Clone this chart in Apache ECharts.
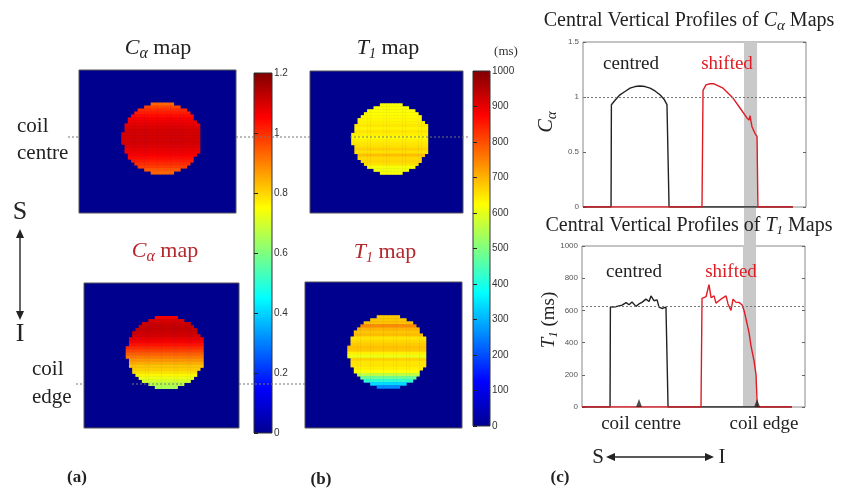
<!DOCTYPE html>
<html>
<head>
<meta charset="utf-8">
<script src="https://cdn.jsdelivr.net/npm/echarts@6/dist/echarts.min.js"></script>
<style>
  html, body { margin: 0; background: #fff; }
  #chart { width: 845px; height: 496px; }
</style>
</head>
<body>
<div id="chart"></div>
<script>
// values of each disc row (top -> bottom)
var caCentredRows = [0.93, 0.97, 1.0, 1.02, 1.04, 1.06, 1.07, 1.08, 1.09, 1.10, 1.10, 1.10,
                     1.10, 1.10, 1.09, 1.08, 1.07, 1.06, 1.04, 1.02, 1.0, 0.98, 0.95, 0.93];
var caShiftedRows = [1.06, 1.10, 1.11, 1.12, 1.12, 1.11, 1.10, 1.08, 1.06, 1.03, 1.0, 0.97,
                     0.94, 0.91, 0.88, 0.85, 0.82, 0.81, 0.79, 0.76, 0.73, 0.70, 0.67, 0.65];
var t1CentredRows = [621, 622, 623, 625, 628, 633, 640, 648, 635, 650, 640, 625,
                     640, 648, 655, 670, 655, 688, 662, 665, 655, 618, 612, 620];
var t1ShiftedRows = [675, 680, 685, 740, 700, 680, 690, 650, 662, 675, 685, 680,
                     640, 605, 668, 650, 650, 640, 625, 560, 480, 420, 340, 260];

// central vertical profiles: [position along S-I, value]
var caCentred = [[0, 0], [16.1, 0], [16.3, 0.93], [18.4, 0.97], [21.2, 1.02], [24.1, 1.05], [27.0, 1.08],
                 [29.9, 1.095], [32.7, 1.10], [35.6, 1.095], [38.5, 1.08], [41.3, 1.055], [44.2, 1.02],
                 [46.5, 0.98], [48.2, 0.93], [49.4, 0], [120.5, 0]];
var caShifted = [[0, 0], [68.3, 0], [68.9, 1.06], [70.6, 1.11], [72.9, 1.12], [75.2, 1.12], [80.4, 1.08],
                 [86.1, 0.99], [90.1, 0.90], [94.1, 0.81], [95.3, 0.79], [95.9, 0.83], [96.4, 0.78],
                 [97.0, 0.73], [98.7, 0.67], [99.9, 0.64], [100.4, 0], [120.5, 0]];
var t1Centred = [[0, 0], [16.1, 0], [16.3, 621], [19.5, 623], [23.0, 633], [25.3, 648], [27.0, 635],
                 [28.7, 652], [31.0, 625], [32.7, 640], [34.4, 650], [36.7, 670], [38.5, 655],
                 [39.6, 690], [41.3, 660], [43.1, 665], [44.2, 620], [45.9, 612], [48.2, 620],
                 [49.0, 618], [49.4, 0], [120.5, 0]];
var t1Shifted = [[0, 0], [68.3, 0], [68.9, 675], [70.0, 680], [71.2, 685], [72.9, 760], [74.1, 680],
                 [75.8, 690], [76.9, 645], [78.6, 660], [80.4, 675], [82.7, 690], [83.8, 640],
                 [85.5, 600], [86.7, 670], [88.4, 650], [90.1, 650], [91.8, 635], [93.0, 600],
                 [94.7, 520], [95.9, 460], [97.0, 380], [98.7, 290], [99.9, 200], [100.6, 0], [120.5, 0]];
var coilMarks = [[32.7, 0], [100.5, 0]];
var bandRange = [92.4, 99.9];
var caRefLine = 1;
var t1RefLine = 625;

var jet = ['#00008f', '#0000ff', '#0080ff', '#00ffff', '#80ff80', '#ffff00', '#ff8000', '#ff0000', '#800000'];
var serif = 'Liberation Serif';
var sans = 'Liberation Sans';

// 48x48 image, disc of radius 12 centred at (25.4, 23)
var N = 48, cx = 25.4, cy = 23, R = 12, firstRow = 11;
function discCells(rows) {
  var out = [];
  rows.forEach(function (v, k) {
    var r = firstRow + k, dy = r + 0.5 - cy;
    for (var c = 0; c < N; c++) {
      var dx = c + 0.5 - cx;
      if (dx * dx + dy * dy <= R * R) out.push([c, r, v]);
    }
  });
  return out;
}
var idx = [];
for (var i = 0; i < N; i++) idx.push(String(i));

function jetGrad() {
  return new echarts.graphic.LinearGradient(0, 1, 0, 0, jet.map(function (c, k) {
    return { offset: k / (jet.length - 1), color: c };
  }));
}

function txt(x, y, text, size, color, extra, rot) {
  var st = {
    text: text, fontFamily: serif, fontSize: size, fill: color || '#222',
    align: 'center', verticalAlign: 'middle', textAlign: 'center', textVerticalAlign: 'middle'
  };
  if (extra) for (var k in extra) st[k] = extra[k];
  return { type: 'text', x: x, y: y, z: 100, rotation: rot || 0, style: st };
}
function subRich(size, color, subSize, drop) {
  return {
    i: { fontFamily: serif, fontSize: size, fontStyle: 'italic', fill: color },
    s: { fontFamily: serif, fontSize: subSize, fontStyle: 'italic', fill: color, padding: [drop * 2, 0, 0, 0] },
    n: { fontFamily: serif, fontSize: size, fill: color }
  };
}
function dotted(x1, y1, x2) {
  return { type: 'line', z: 100, shape: { x1: x1, y1: y1, x2: x2, y2: y1 },
           style: { stroke: '#777', lineWidth: 1, lineDash: [2, 2] } };
}
function arrowV(x, y1, y2) {
  return { type: 'group', z: 100, children: [
    { type: 'line', shape: { x1: x, y1: y1 + 4, x2: x, y2: y2 - 4 }, style: { stroke: '#333', lineWidth: 1.5 } },
    { type: 'polygon', shape: { points: [[x, y1], [x - 4, y1 + 9], [x + 4, y1 + 9]] }, style: { fill: '#222' } },
    { type: 'polygon', shape: { points: [[x, y2], [x - 4, y2 - 9], [x + 4, y2 - 9]] }, style: { fill: '#222' } }
  ] };
}
function arrowH(x1, x2, y) {
  return { type: 'group', z: 100, children: [
    { type: 'line', shape: { x1: x1 + 4, y1: y, x2: x2 - 4, y2: y }, style: { stroke: '#222', lineWidth: 1.5 } },
    { type: 'polygon', shape: { points: [[x1, y], [x1 + 9, y - 4], [x1 + 9, y + 4]] }, style: { fill: '#222' } },
    { type: 'polygon', shape: { points: [[x2, y], [x2 - 9, y - 4], [x2 - 9, y + 4]] }, style: { fill: '#222' } }
  ] };
}

var mapGrid = { show: true, backgroundColor: '#00008f', borderColor: '#555', borderWidth: 1, outerBoundsMode: 'none' };
function g(o, base) { var r = {}; for (var k in base) r[k] = base[k]; for (var k2 in o) r[k2] = o[k2]; return r; }

var catX = function (gi) { return { type: 'category', gridIndex: gi, data: idx, show: false }; };
var catY = function (gi) { return { type: 'category', gridIndex: gi, data: idx, inverse: true, show: false }; };
var plain = function (v) { return String(v); };
var barAxis = function (gi, max, step) {
  return { type: 'value', gridIndex: gi, min: 0, max: max, interval: step, position: 'right',
           axisLine: { show: false }, splitLine: { show: false },
           axisTick: { show: true, inside: false, length: 4, lineStyle: { color: '#222' } },
           axisLabel: { margin: 2, fontFamily: sans, fontSize: 10, color: '#333', formatter: plain } };
};
var profY = function (gi, max, step, side) {
  return { type: 'value', gridIndex: gi, min: 0, max: max, interval: step, position: side,
           axisLine: { show: false }, splitLine: { show: false },
           axisTick: { show: true, inside: true, length: 3, lineStyle: { color: '#666' } },
           axisLabel: { show: side === 'left', margin: 4, fontFamily: sans, fontSize: 8, color: '#555', formatter: plain } };
};
var profX = function (gi) {
  return { type: 'value', gridIndex: gi, min: 0, max: 128, axisLine: { show: false },
           axisTick: { show: false }, axisLabel: { show: false }, splitLine: { show: false } };
};
var heat = function (i, data) {
  return { type: 'heatmap', xAxisIndex: i, yAxisIndex: i, data: data, silent: true,
           itemStyle: { borderWidth: 0 }, emphasis: { disabled: true }, progressive: 0 };
};
var band = { silent: true, itemStyle: { color: '#c9c9c9' },
             data: [[{ xAxis: bandRange[0] }, { xAxis: bandRange[1] }]] };
var refLine = function (v) {
  return { silent: true, symbol: 'none', label: { show: false },
           lineStyle: { type: [2, 2], color: '#777', width: 1 }, data: [{ yAxis: v }] };
};
var prof = function (xi, yi, data, color) {
  return { type: 'line', xAxisIndex: xi, yAxisIndex: yi, data: data, symbol: 'none', silent: true,
           lineStyle: { color: color, width: 1.4 }, z: color === '#222' ? 3 : 4 };
};

var chart = echarts.init(document.getElementById('chart'));
var red = '#e01b24';
var mapRed = '#b3282d';

var option = {
  animation: false,
  grid: [
    g({ left: 79, top: 70, width: 157, height: 143 }, mapGrid),
    g({ left: 84, top: 283, width: 155, height: 145 }, mapGrid),
    g({ left: 310, top: 71, width: 153, height: 142 }, mapGrid),
    g({ left: 305, top: 282, width: 157, height: 146 }, mapGrid),
    { left: 254, top: 73, width: 18, height: 360, show: true, backgroundColor: jetGrad(), borderColor: '#333', borderWidth: 1, outerBoundsMode: 'none' },
    { left: 473, top: 71, width: 17, height: 355, show: true, backgroundColor: jetGrad(), borderColor: '#333', borderWidth: 1, outerBoundsMode: 'none' },
    { left: 583, top: 42, width: 223, height: 165, show: true, borderColor: '#888', borderWidth: 1, outerBoundsMode: 'none' },
    { left: 582, top: 246, width: 223, height: 161, show: true, borderColor: '#888', borderWidth: 1, outerBoundsMode: 'none' }
  ],
  xAxis: [catX(0), catX(1), catX(2), catX(3),
          { type: 'value', gridIndex: 4, show: false }, { type: 'value', gridIndex: 5, show: false },
          profX(6), profX(7)],
  yAxis: [catY(0), catY(1), catY(2), catY(3),
          barAxis(4, 1.2, 0.2), barAxis(5, 1000, 100),
          profY(6, 1.5, 0.5, 'left'), profY(7, 1000, 200, 'left'),
          profY(6, 1.5, 0.5, 'right'), profY(7, 1000, 200, 'right')],
  visualMap: [
    { type: 'continuous', show: false, seriesIndex: [0, 1], min: 0, max: 1.2, inRange: { color: jet } },
    { type: 'continuous', show: false, seriesIndex: [2, 3], min: 0, max: 1000, inRange: { color: jet } }
  ],
  series: [
    heat(0, discCells(caCentredRows)),
    heat(1, discCells(caShiftedRows)),
    heat(2, discCells(t1CentredRows)),
    heat(3, discCells(t1ShiftedRows)),
    g({ markArea: band, markLine: refLine(caRefLine) }, prof(6, 6, caCentred, '#222')),
    prof(6, 6, caShifted, red),
    g({ markArea: band, markLine: refLine(t1RefLine) }, prof(7, 7, t1Centred, '#222')),
    prof(7, 7, t1Shifted, red),
    { type: 'scatter', xAxisIndex: 7, yAxisIndex: 7, data: coilMarks, symbol: 'triangle',
      symbolSize: [6, 8], symbolOffset: [0, -4], itemStyle: { color: '#222' }, silent: true, z: 5 }
  ],
  graphic: [
    // panel titles
    txt(158, 48, '{i|C}{s|α}{n| map}', 22, '#222', { rich: subRich(22, '#222', 16, 6) }),
    txt(165, 251, '{i|C}{s|α}{n| map}', 22, mapRed, { rich: subRich(22, mapRed, 16, 6) }),
    txt(388, 48, '{i|T}{s|1}{n| map}', 22, '#222', { rich: subRich(22, '#222', 14, 6) }),
    txt(385, 252, '{i|T}{s|1}{n| map}', 22, mapRed, { rich: subRich(22, mapRed, 14, 6) }),
    txt(506, 52, '(ms)', 13, '#333'),
    // coil labels
    txt(17, 126, 'coil', 21, '#222', { align: 'left', textAlign: 'left' }),
    txt(17, 153, 'centre', 21, '#222', { align: 'left', textAlign: 'left' }),
    txt(32, 369, 'coil', 21, '#222', { align: 'left', textAlign: 'left' }),
    txt(32, 397, 'edge', 21, '#222', { align: 'left', textAlign: 'left' }),
    dotted(68, 137, 79), dotted(236, 137, 310), dotted(350, 137, 470),
    dotted(76, 384, 84), dotted(132, 384, 182), dotted(239, 384, 305),
    txt(20, 212, 'S', 26, '#222'),
    txt(20, 334, 'I', 26, '#222'),
    arrowV(20, 229, 320),
    // profile charts
    txt(689, 21, '{n|Central Vertical Profiles of }{i|C}{s|α}{n| Maps}', 20, '#222', { rich: subRich(20, '#222', 15, 5) }),
    txt(689, 226, '{n|Central Vertical Profiles of }{i|T}{s|1}{n| Maps}', 20, '#222', { rich: subRich(20, '#222', 13, 5) }),
    txt(547, 122, '{i|C}{s|α}', 20, '#222', { rich: subRich(20, '#222', 15, 5) }, Math.PI / 2),
    txt(549, 320, '{i|T}{s|1}{n| (ms)}', 19, '#222', { rich: subRich(19, '#222', 13, 5) }, Math.PI / 2),
    txt(631, 64, 'centred', 19, '#222'),
    txt(727, 64, 'shifted', 19, red),
    txt(634, 272, 'centred', 19, '#222'),
    txt(731, 272, 'shifted', 19, red),
    txt(641, 424, 'coil centre', 19, '#222'),
    txt(764, 424, 'coil edge', 19, '#222'),
    txt(598, 457, 'S', 21, '#222'),
    txt(722, 457, 'I', 21, '#222'),
    arrowH(606, 714, 457),
    // panel letters
    txt(77, 478, '(a)', 17, '#222', { fontWeight: 'bold' }),
    txt(321, 480, '(b)', 17, '#222', { fontWeight: 'bold' }),
    txt(560, 478, '(c)', 17, '#222', { fontWeight: 'bold' })
  ]
};
chart.setOption(option);

// grey band continues in the gap between the two profile charts
var p1 = chart.convertToPixel({ gridIndex: 6 }, [bandRange[0], 0]);
var p2 = chart.convertToPixel({ gridIndex: 7 }, [bandRange[1], 1000]);
option.graphic.push({ type: 'rect', z: 1, shape: { x: p1[0], y: p1[1], width: p2[0] - p1[0], height: p2[1] - p1[1] },
                      style: { fill: '#c9c9c9' } });
chart.setOption({ graphic: option.graphic });

window.addEventListener('resize', function () { chart.resize(); });
</script>
</body>
</html>
